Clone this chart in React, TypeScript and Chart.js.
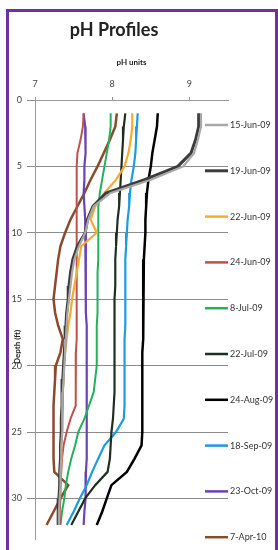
import React, { useEffect, useRef } from "react";
import Chart from "chart.js/auto";

// ---- data ----
const depthsFt = [1, 2, 3, 4, 5, 6, 7, 8, 9, 10, 11, 12, 13, 14, 15, 16, 17, 18, 19, 20, 21, 22, 23, 24, 25, 26, 27, 28, 29, 30, 31, 32];

const seriesLabels = ["15-Jun-09", "19-Jun-09", "22-Jun-09", "24-Jun-09", "8-Jul-09", "22-Jul-09", "24-Aug-09", "18-Sep-09", "23-Oct-09", "7-Apr-10"];

const ph15Jun09 = [9.15, 9.15, 9.11, 9.06, 8.92, 8.5, 7.98, 7.76, 7.69, 7.65, 7.57, 7.51, 7.48, 7.46, 7.44, 7.42, 7.41, 7.4, 7.39, 7.38, 7.37, 7.36, 7.36, 7.35, 7.35, 7.34, 7.34, 7.33, 7.33, 7.32, 7.31, 7.31];
const ph19Jun09 = [9.12, 9.12, 9.08, 9.02, 8.85, 8.42, 7.92, 7.75, 7.68, 7.65, 7.55, 7.49, 7.46, 7.44, 7.43, 7.41, 7.4, 7.39, 7.38, 7.37, 7.36, 7.35, 7.35, 7.34, 7.34, 7.33, 7.33, 7.32, 7.32, 7.31, 7.3, 7.3];
const ph22Jun09 = [8.26, 8.26, 8.24, 8.21, 8.16, 8.05, 7.9, 7.78, 7.72, 7.8, 7.6, 7.57, 7.54, 7.51, 7.48, 7.46, 7.43, 7.41, 7.39, 7.37, 7.37, 7.36, 7.36, 7.35, 7.35, 7.34, 7.34, 7.33, 7.32, 7.31, 7.3, 7.3];
const ph24Jun09 = [7.63, 7.62, 7.59, 7.55, 7.54, 7.54, 7.54, 7.54, 7.54, 7.54, 7.54, 7.54, 7.54, 7.54, 7.54, 7.54, 7.54, 7.54, 7.53, 7.53, 7.53, 7.53, 7.52, 7.46, 7.41, 7.37, 7.35, 7.34, 7.33, 7.33, 7.32, 7.32];
const ph8Jul09 = [7.98, 7.98, 7.96, 7.93, 7.9, 7.87, 7.84, 7.82, 7.82, 7.82, 7.82, 7.82, 7.81, 7.81, 7.81, 7.81, 7.8, 7.8, 7.8, 7.8, 7.78, 7.76, 7.7, 7.64, 7.56, 7.52, 7.47, 7.43, 7.4, 7.38, 7.35, 7.33];
const ph22Jul09 = [8.17, 8.15, 8.14, 8.13, 8.12, 8.11, 8.1, 8.09, 8.07, 8.06, 8.05, 8.04, 8.04, 8.04, 8.03, 8.03, 8.03, 8.03, 8.03, 8.03, 8.03, 8.03, 8.02, 8.01, 7.99, 7.98, 7.97, 7.94, 7.78, 7.65, 7.56, 7.47];
const ph24Aug09 = [8.59, 8.58, 8.55, 8.52, 8.5, 8.47, 8.45, 8.44, 8.43, 8.43, 8.42, 8.41, 8.41, 8.4, 8.4, 8.4, 8.4, 8.4, 8.39, 8.39, 8.39, 8.39, 8.39, 8.39, 8.39, 8.38, 8.29, 8.19, 7.99, 7.93, 7.87, 7.8];
const ph18Sep09 = [8.33, 8.32, 8.31, 8.3, 8.28, 8.25, 8.23, 8.22, 8.2, 8.19, 8.18, 8.17, 8.17, 8.17, 8.17, 8.17, 8.17, 8.16, 8.16, 8.16, 8.16, 8.16, 8.16, 8.15, 8.05, 7.9, 7.82, 7.74, 7.67, 7.58, 7.5, 7.41];
const ph23Oct09 = [7.63, 7.65, 7.66, 7.65, 7.64, 7.64, 7.63, 7.64, 7.65, 7.65, 7.66, 7.66, 7.66, 7.66, 7.66, 7.66, 7.67, 7.67, 7.67, 7.67, 7.67, 7.67, 7.67, 7.67, 7.67, 7.67, 7.67, 7.66, 7.66, 7.65, 7.64, 7.63];
const ph7Apr10 = [8.06, 8.04, 7.97, 7.89, 7.81, 7.72, 7.64, 7.55, 7.46, 7.39, 7.33, 7.3, 7.28, 7.26, 7.24, 7.26, 7.3, 7.36, 7.33, 7.27, 7.26, 7.25, 7.24, 7.24, 7.24, 7.24, 7.24, 7.25, 7.43, 7.33, 7.24, 7.15];

const xTickValues = [7, 8, 9];
const yTickValues = [0, 5, 10, 15, 20, 25, 30];

// ---- styles ----
const FONT = "Lato, 'Open Sans', sans-serif";
const seriesColors = ["#a8a8a8", "#3c3c3c", "#f6aa32", "#c0504d", "#22b05a", "#1f2e1f", "#000000", "#1c9be0", "#6b42b4", "#8b4a2b"];
const seriesWidths = [2.2, 3, 2.2, 2, 2, 2.2, 2.5, 2.2, 2.2, 2.5];

const allSeries = [ph15Jun09, ph19Jun09, ph22Jun09, ph24Jun09, ph8Jul09, ph22Jul09, ph24Aug09, ph18Sep09, ph23Oct09, ph7Apr10];

const overlayPlugin = {
  id: "overlay",
  afterDraw(chart: any) {
    const ctx = chart.ctx as CanvasRenderingContext2D;
    // y axis title
    ctx.save();
    ctx.translate(17, 347);
    ctx.rotate(-Math.PI / 2);
    ctx.font = `bold 8px ${FONT}`;
    ctx.fillStyle = "#222";
    ctx.textAlign = "center";
    ctx.textBaseline = "middle";
    ctx.fillText("Depth (ft)", 0, 0);
    ctx.restore();
    // legend
    ctx.save();
    const top = 125;
    const step = 45.8;
    chart.data.datasets.forEach((ds: any, i: number) => {
      const y = top + i * step;
      ctx.strokeStyle = ds.borderColor;
      ctx.lineWidth = Math.max(2.5, ds.borderWidth);
      ctx.beginPath();
      ctx.moveTo(205, y);
      ctx.lineTo(228, y);
      ctx.stroke();
      ctx.font = `9px ${FONT}`;
      ctx.fillStyle = "#333";
      ctx.textAlign = "left";
      ctx.textBaseline = "middle";
      ctx.fillText(ds.label, 230, y);
    });
    ctx.restore();
  },
};

export default function App() {
  const canvasRef = useRef<HTMLCanvasElement | null>(null);

  useEffect(() => {
    if (!canvasRef.current) return;
    const datasets = seriesLabels.map((label, i) => ({
      label,
      data: depthsFt.map((d, j) => ({ x: allSeries[i][j], y: d })),
      borderColor: seriesColors[i],
      backgroundColor: seriesColors[i],
      borderWidth: seriesWidths[i],
      showLine: true,
      pointRadius: 0,
      tension: 0,
      fill: false,
    }));
    const chart = new Chart(canvasRef.current, {
      type: "scatter",
      data: { datasets },
      options: {
        animation: false,
        responsive: false,
        maintainAspectRatio: false,
        layout: { padding: { top: 0, left: 0, right: 50, bottom: 0 } },
        plugins: {
          legend: { display: false },
          tooltip: { enabled: false },
          title: {
            display: true,
            text: "pH Profiles",
            color: "#222",
            font: { family: FONT, size: 18, weight: "bold", lineHeight: 1.2 },
            padding: { top: 19, bottom: 4.4 },
          },
        },
        scales: {
          x: {
            type: "linear",
            position: "top",
            min: 7,
            max: 9.5,
            afterBuildTicks: (s: any) => {
              s.ticks = xTickValues.map((v) => ({ value: v }));
            },
            afterFit: (s: any) => {
              s.height = 100 - 19 - 18 * 1.2 - 4.4;
            },
            ticks: { color: "#444", font: { family: FONT, size: 9 }, padding: 8, maxRotation: 0 },
            grid: { display: true, drawOnChartArea: false, drawTicks: true, tickLength: 3, color: "#999" },
            border: { display: true, color: "#999", width: 1 },
            title: {
              display: true,
              text: "pH units",
              color: "#222",
              font: { family: FONT, size: 8, weight: "bold", lineHeight: 1.2 },
              padding: { top: 13, bottom: 0 },
            },
          },
          y: {
            type: "linear",
            reverse: true,
            min: 0,
            max: 33.1,
            afterBuildTicks: (s: any) => {
              s.ticks = yTickValues.map((v) => ({ value: v }));
            },
            afterFit: (s: any) => {
              s.width = 35;
            },
            ticks: { color: "#444", font: { family: FONT, size: 9 }, padding: 5 },
            grid: { color: "#8c8c8c", lineWidth: 1, tickLength: 8 },
            border: { display: true, color: "#999", width: 1 },
          },
        },
      } as any,
      plugins: [overlayPlugin],
    });
    return () => chart.destroy();
  }, []);

  return (
    <>
      <div
        style={{
          position: "absolute",
          left: 6,
          top: 9,
          width: 272,
          height: 541,
          boxSizing: "border-box",
          borderTop: "3px solid #7030a0",
          borderLeft: "3px solid #7030a0",
          borderRight: "3px solid #7030a0",
          background: "#fff",
        }}
      />
      <canvas
        ref={canvasRef}
        width={278}
        height={550}
        style={{ position: "absolute", left: 0, top: 0, width: 278, height: 550, display: "block" }}
      />
    </>
  );
}
